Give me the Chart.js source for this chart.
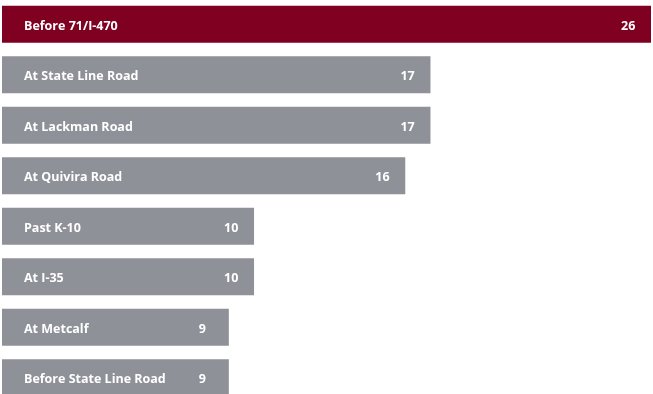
<!DOCTYPE html>
<html>
<head>
<meta charset="utf-8">
<script src="https://cdn.jsdelivr.net/npm/chart.js@4"></script>
<style>
  html, body { margin: 0; padding: 0; background: #fff; overflow: hidden; }
  #wrap { position: relative; width: 653px; height: 394px; overflow: hidden; }
  #chart { position: absolute; left: 0; top: -1px; }
</style>
</head>
<body>
<div id="wrap"><canvas id="chart" width="653" height="404"></canvas></div>
<script>
const locations = [
  'Before 71/I-470',
  'At State Line Road',
  'At Lackman Road',
  'At Quivira Road',
  'Past K-10',
  'At I-35',
  'At Metcalf',
  'Before State Line Road'
];
const counts = [26, 17, 17, 16, 10, 10, 9, 9];
const barColors = ['#800022', '#8f9199', '#8f9199', '#8f9199', '#8f9199', '#8f9199', '#8f9199', '#8f9199'];

// names inside the bar on the left, count near the bar's end
const barText = {
  id: 'barText',
  afterDatasetsDraw(chart) {
    const { ctx, chartArea, scales } = chart;
    const meta = chart.getDatasetMeta(0);
    ctx.save();
    ctx.font = 'bold 12.5px "Open Sans"';
    ctx.fillStyle = '#ffffff';
    ctx.textBaseline = 'alphabetic';
    ctx.textAlign = 'left';
    meta.data.forEach((bar, i) => {
      const left = scales.x.getPixelForValue(0);
      const end = Math.min(scales.x.getPixelForValue(counts[i]), chartArea.right);
      const base = bar.y + 5.7;
      ctx.fillText(locations[i], left + 22, base);
      ctx.fillText(String(counts[i]), end - 30, base);
    });
    ctx.restore();
  }
};

new Chart(document.getElementById('chart'), {
  type: 'bar',
  data: {
    labels: locations,
    datasets: [{
      data: counts,
      backgroundColor: barColors,
      borderWidth: 0,
      categoryPercentage: 1,
      barPercentage: 0.728
    }]
  },
  options: {
    indexAxis: 'y',
    responsive: false,
    animation: false,
    layout: { padding: { left: 2, right: 2, top: 0, bottom: 0 } },
    plugins: {
      legend: { display: false },
      tooltip: { enabled: false }
    },
    scales: {
      x: { display: false, min: 0, max: 25.75 },
      y: { display: false }
    }
  },
  plugins: [barText]
});
</script>
</body>
</html>
